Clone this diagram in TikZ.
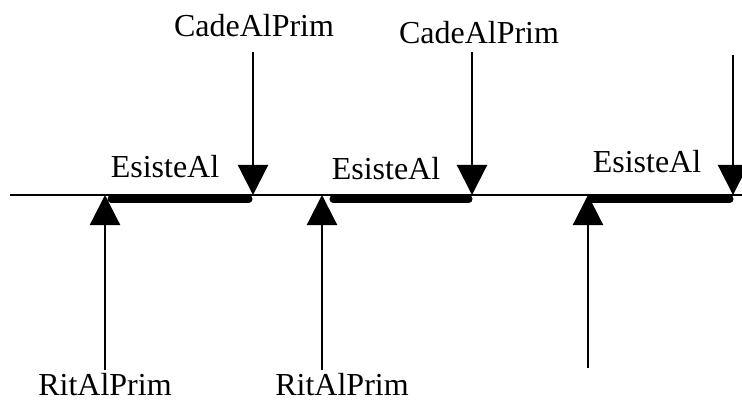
\documentclass[tikz,border=0pt]{standalone}
\usepackage{fontspec}
\setmainfont{Liberation Serif}
\usetikzlibrary{arrows.meta}
\begin{document}
\begin{tikzpicture}[x=1pt,y=-1pt,
  axis/.style={line width=1.8pt},
  span/.style={line width=7pt,line cap=round},
  evt/.style={line width=2.2pt,-{Triangle[width=30pt,length=30pt]}},
  lbl/.style={font=\fontsize{32}{38}\selectfont,anchor=base,inner sep=0pt}]

\useasboundingbox (0,0) rectangle (742,401);

% time axis
\coordinate (axL) at (10,195);
\coordinate (axR) at (742,195);
\draw[axis] (axL) -- (axR);

% instants on the axis
\coordinate (r1) at (105,195);
\coordinate (r2) at (322,195);
\coordinate (r3) at (588,195);
\coordinate (c1) at (253,195);
\coordinate (c2) at (472,195);
\coordinate (c3) at (733,195);

% free ends of the event arrows
\coordinate (c1top) at (253,52);
\coordinate (c2top) at (472,52);
\coordinate (c3top) at (733,55);
\coordinate (r1bot) at (105,370);
\coordinate (r2bot) at (322,370);
\coordinate (r3bot) at (588,368);

% intervals where the condition holds
\coordinate (s1a) at (111,199);
\coordinate (s1b) at (249,199);
\coordinate (s2a) at (333,199);
\coordinate (s2b) at (469,199);
\coordinate (s3a) at (591,199);
\coordinate (s3b) at (730,199);
\draw[span] (s1a) -- (s1b);
\draw[span] (s2a) -- (s2b);
\draw[span] (s3a) -- (s3b);

% arrows
\draw[evt] (c1top) -- (c1);
\draw[evt] (c2top) -- (c2);
\draw[evt] (c3top) -- (c3);
\draw[evt] (r1bot) -- (r1);
\draw[evt] (r2bot) -- (r2);
\draw[evt] (r3bot) -- (r3);

% labels
\node[lbl] (lc1) at (254,37) {CadeAlPrim};
\node[lbl] (lc2) at (479,44) {CadeAlPrim};
\node[lbl] (le1) at (165,178) {EsisteAl};
\node[lbl] (le2) at (386,179) {EsisteAl};
\node[lbl] (le3) at (647,173) {EsisteAl};
\node[lbl] (lr1) at (105,395) {RitAlPrim};
\node[lbl] (lr2) at (342,395) {RitAlPrim};
\end{tikzpicture}
\end{document}
